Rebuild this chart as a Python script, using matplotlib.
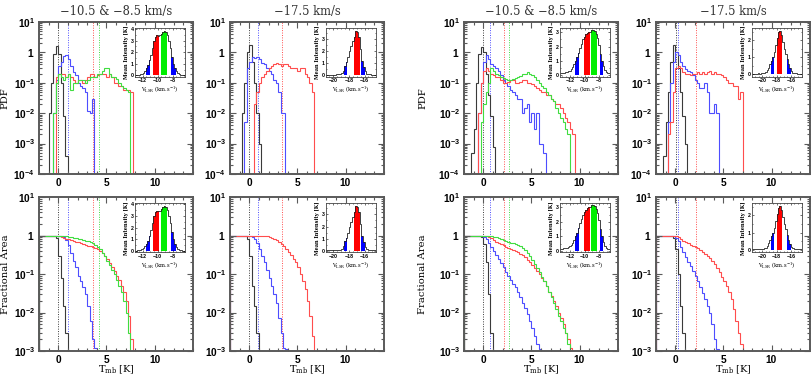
import matplotlib
matplotlib.use('Agg')
import matplotlib.pyplot as plt
import numpy as np
from matplotlib.ticker import LogLocator, MultipleLocator, NullFormatter

plt.rcParams['font.family'] = 'DejaVu Serif'
plt.rcParams['mathtext.fontset'] = 'custom'
plt.rcParams['mathtext.rm'] = 'DejaVu Serif'
plt.rcParams['mathtext.it'] = 'DejaVu Serif:italic'
plt.rcParams['mathtext.bf'] = 'Liberation Sans:bold'

# histogram bin width in K, spectral channel width in km/s
BIN = 0.25
CHAN = 0.2

# ---- left group, -10.5 & -8.5 km/s : PDF (start of first bin, values)
L_mix_pdf_k = (-1.0, [0.01, 0.1, 0.9, 1.6, 0.9, 0.1, 0.008, 0.0004])
L_mix_pdf_b = (-0.5, [0.01, 0.12, 0.35, 0.5, 0.75, 0.8, 0.6, 0.35, 0.22, 0.18, 0.1, 0.08,
                      0.07, 0.05, 0.012, 0.01, 0.03])
L_mix_pdf_r = (-0.25, [0.15, 0.2, 0.2, 0.2, 0.15, 0.2, 0.15, 0.12, 0.1, 0.12, 0.12, 0.1,
                       0.12, 0.15, 0.2, 0.2, 0.15, 0.18, 0.2, 0.2, 0.2, 0.15, 0.2, 0.15,
                       0.1, 0.1, 0.08, 0.08, 0.06, 0.06, 0.06, 0.05])
L_mix_pdf_g = (-0.5, [0.01, 0.1, 0.2, 0.15, 0.12, 0.15, 0.2, 0.06, 0.1, 0.1, 0.12, 0.12,
                      0.12, 0.1, 0.12, 0.15, 0.15, 0.15, 0.2, 0.2, 0.25, 0.3, 0.3, 0.2,
                      0.15, 0.15, 0.13, 0.1, 0.08, 0.07, 0.06, 0.05])
# ---- left group, -17.5 km/s : PDF
L_175_pdf_k = (-0.75, [0.01, 0.1, 1.0, 1.7, 0.5, 0.1, 0.01, 0.001])
L_175_pdf_b = (-0.5, [0.005, 0.3, 0.5, 0.7, 0.65, 0.7, 0.6, 0.45, 0.4, 0.3, 0.25, 0.2,
                      0.12, 0.1, 0.05, 0.01, 0.01])
L_175_pdf_r = (0.5, [0.02, 0.05, 0.1, 0.15, 0.2, 0.25, 0.3, 0.35, 0.4, 0.45, 0.4, 0.35,
                     0.4, 0.4, 0.35, 0.3, 0.3, 0.3, 0.25, 0.3, 0.3, 0.2, 0.15, 0.1, 0.05])
# ---- left group, fractional area
L_mix_cdf_k = (-2.0, [1.0, 1.0, 1.0, 1.0, 1.0, 1.0, 0.97, 0.85, 0.3, 0.08, 0.015, 0.003])
L_mix_cdf_b = (-2.0, [1.0, 1.0, 1.0, 1.0, 1.0, 1.0, 1.0, 1.0, 0.97, 0.95, 0.9, 0.75, 0.55,
                      0.35, 0.22, 0.15, 0.09, 0.065, 0.045, 0.03, 0.015, 0.006, 0.002,
                      0.0012])
L_mix_cdf_r = (-2.0, [1.0, 1.0, 1.0, 1.0, 1.0, 1.0, 1.0, 1.0, 0.97, 0.93, 0.88, 0.83, 0.8,
                      0.76, 0.72, 0.69, 0.66, 0.63, 0.6, 0.57, 0.54, 0.52, 0.5, 0.47,
                      0.44, 0.4, 0.35, 0.3, 0.24, 0.19, 0.15, 0.12, 0.09, 0.07, 0.05,
                      0.035, 0.02, 0.008, 0.002])
L_mix_cdf_g = (-2.0, [1.0, 1.0, 1.0, 1.0, 1.0, 1.0, 1.0, 1.0, 0.99, 0.98, 0.97, 0.95, 0.93,
                      0.91, 0.88, 0.86, 0.83, 0.8, 0.77, 0.74, 0.7, 0.66, 0.62, 0.57, 0.5,
                      0.44, 0.36, 0.29, 0.22, 0.17, 0.13, 0.1, 0.07, 0.05, 0.035, 0.02,
                      0.01, 0.003])
L_175_cdf_k = (-2.0, [1.0, 1.0, 1.0, 1.0, 1.0, 1.0, 0.97, 0.8, 0.3, 0.05, 0.015, 0.003])
L_175_cdf_b = (-2.0, [1.0, 1.0, 1.0, 1.0, 1.0, 1.0, 1.0, 1.0, 0.97, 0.92, 0.8, 0.65, 0.45,
                      0.3, 0.2, 0.13, 0.08, 0.05, 0.03, 0.018, 0.007, 0.003, 0.0012,
                      0.0011])
L_175_cdf_r = (-2.0, [1.0, 1.0, 1.0, 1.0, 1.0, 1.0, 1.0, 1.0, 1.0, 1.0, 1.0, 1.0, 1.0, 1.0,
                      0.98, 0.96, 0.93, 0.88, 0.82, 0.75, 0.68, 0.6, 0.52, 0.45, 0.38,
                      0.31, 0.25, 0.2, 0.15, 0.1, 0.065, 0.04, 0.02, 0.008, 0.0025])

# ---- right group, -10.5 & -8.5 km/s : PDF
R_mix_pdf_k = (-1.25, [0.0005, 0.003, 0.1, 0.9, 1.5, 1.0, 0.2, 0.04, 0.008, 0.0008])
R_mix_pdf_b = (-0.5, [0.01, 0.1, 0.5, 0.8, 0.6, 0.4, 0.35, 0.3, 0.25, 0.18, 0.12, 0.1,
                      0.08, 0.06, 0.05, 0.04, 0.03, 0.03, 0.01, 0.015, 0.02, 0.005, 0.01,
                      0.003, 0.01, 0.001, 0.001, 0.0005])
R_mix_pdf_r = (-0.5, [0.01, 0.1, 0.25, 0.3, 0.25, 0.2, 0.18, 0.15, 0.15, 0.12, 0.1, 0.1,
                      0.11, 0.12, 0.12, 0.1, 0.1, 0.11, 0.12, 0.12, 0.1, 0.1, 0.09, 0.08,
                      0.07, 0.06, 0.05, 0.05, 0.04, 0.04, 0.03, 0.025, 0.02, 0.02, 0.015,
                      0.01, 0.007, 0.005, 0.003, 0.002])
R_mix_pdf_g = (-0.25, [0.005, 0.02, 0.05, 0.1, 0.3, 0.25, 0.2, 0.18, 0.15, 0.14, 0.13,
                       0.12, 0.12, 0.13, 0.14, 0.15, 0.17, 0.2, 0.2, 0.22, 0.2, 0.18, 0.15,
                       0.12, 0.1, 0.08, 0.07, 0.05, 0.04, 0.03, 0.025, 0.015, 0.01, 0.007,
                       0.005, 0.003, 0.002])
# ---- right group, -17.5 km/s : PDF
R_175_pdf_k = (-1.25, [0.0004, 0.005, 0.05, 0.5, 1.7, 1.0, 0.3, 0.05, 0.008, 0.001])
R_175_pdf_b = (-0.75, [0.005, 0.1, 0.5, 1.0, 0.8, 0.5, 0.35, 0.28, 0.25, 0.22, 0.18, 0.12,
                       0.1, 0.07, 0.07, 0.1, 0.05, 0.01, 0.01, 0.02, 0.01])
R_175_pdf_r = (-0.75, [0.002, 0.005, 0.05, 0.3, 0.35, 0.3, 0.22, 0.2, 0.2, 0.18, 0.2, 0.2,
                       0.22, 0.2, 0.22, 0.2, 0.22, 0.25, 0.2, 0.22, 0.2, 0.2, 0.18, 0.15,
                       0.12, 0.1, 0.1, 0.08, 0.08, 0.03, 0.05])
# ---- right group, fractional area
R_mix_cdf_k = (-2.0, [1.0, 1.0, 1.0, 1.0, 1.0, 1.0, 0.98, 0.9, 0.6, 0.2, 0.03, 0.003])
R_mix_cdf_b = (-2.0, [1.0, 1.0, 1.0, 1.0, 1.0, 1.0, 1.0, 0.98, 0.92, 0.8, 0.65, 0.5, 0.4,
                      0.32, 0.24, 0.19, 0.15, 0.11, 0.09, 0.07, 0.055, 0.045, 0.035, 0.025,
                      0.018, 0.013, 0.009, 0.006, 0.004, 0.0025, 0.0015, 0.0011, 0.001])
R_mix_cdf_r = (-2.0, [1.0, 1.0, 1.0, 1.0, 1.0, 1.0, 1.0, 1.0, 1.0, 0.97, 0.92, 0.85, 0.75,
                      0.68, 0.63, 0.59, 0.55, 0.51, 0.48, 0.45, 0.42, 0.4, 0.37, 0.34,
                      0.31, 0.27, 0.23, 0.2, 0.17, 0.14, 0.12, 0.1, 0.08, 0.065, 0.05,
                      0.035, 0.027, 0.02, 0.015, 0.01, 0.007, 0.005, 0.003, 0.002, 0.0012])
R_mix_cdf_g = (-2.0, [1.0, 1.0, 1.0, 1.0, 1.0, 1.0, 1.0, 1.0, 1.0, 0.99, 0.97, 0.95, 0.93,
                      0.9, 0.87, 0.83, 0.78, 0.72, 0.68, 0.65, 0.62, 0.6, 0.56, 0.52, 0.48,
                      0.42, 0.36, 0.29, 0.23, 0.18, 0.14, 0.11, 0.085, 0.065, 0.05, 0.035,
                      0.025, 0.018, 0.012, 0.008, 0.006, 0.004, 0.003, 0.0015])
R_175_cdf_k = (-2.0, [1.0, 1.0, 1.0, 1.0, 1.0, 1.0, 0.99, 0.85, 0.45, 0.1, 0.015, 0.003])
R_175_cdf_b = (-2.0, [1.0, 1.0, 1.0, 1.0, 1.0, 1.0, 1.0, 0.97, 0.88, 0.7, 0.5, 0.37, 0.28,
                      0.2, 0.16, 0.12, 0.09, 0.065, 0.045, 0.032, 0.022, 0.015, 0.01,
                      0.005, 0.002, 0.0011])
R_175_cdf_r = (-2.0, [1.0, 1.0, 1.0, 1.0, 1.0, 1.0, 1.0, 1.0, 0.98, 0.92, 0.82, 0.74, 0.68,
                      0.62, 0.58, 0.54, 0.5, 0.46, 0.42, 0.38, 0.34, 0.3, 0.26, 0.22, 0.18,
                      0.14, 0.11, 0.085, 0.065, 0.05, 0.035, 0.022, 0.012, 0.006, 0.003,
                      0.0015])

# mean temperatures (dotted lines), order black, blue, red, green
L_mix_means = [0.0, 0.98, 3.6, 4.27]
L_175_means = [0.0, 0.87, 3.43]
R_mix_means = [0.0, 0.7, 2.2, 2.7]
R_175_means = [0.07, 0.24, 2.15]

# ---- inset spectra (start of first channel, mean intensity per channel)
spec_L_mix = (-13.0, [0.05, 0.06, 0.08, 0.1, 0.15, 0.25, 0.4, 0.6, 0.9, 1.3, 1.8, 2.4, 3.0,
                      3.35, 3.45, 3.4, 3.45, 3.6, 3.75, 3.85, 3.75, 3.5, 3.0, 2.4, 1.6, 1.0,
                      0.6, 0.35, 0.2, 0.12, 0.08, 0.05, 0.05])
spec_L_175 = (-21.0, [0.05, 0.05, 0.05, 0.06, 0.05, 0.05, 0.06, 0.08, 0.1, 0.12, 0.2, 0.4,
                      0.8, 1.1, 1.5, 2.0, 2.4, 2.8, 3.2, 3.7, 3.6, 3.2, 2.2, 1.2, 0.7, 0.35,
                      0.15, 0.1, 0.08, 0.05, 0.05, 0.05])
spec_R_mix = (-13.3, [0.15, 0.15, 0.17, 0.2, 0.22, 0.25, 0.3, 0.4, 0.55, 0.75, 1.0, 1.25,
                      1.55, 1.9, 2.2, 2.5, 2.7, 2.85, 2.95, 3.0, 3.05, 3.15, 3.2, 3.1, 2.9,
                      2.6, 2.1, 1.5, 1.0, 0.6, 0.35, 0.2, 0.15, 0.12])
spec_R_175 = (-21.4, [0.05, 0.05, 0.05, 0.05, 0.06, 0.05, 0.06, 0.08, 0.1, 0.15, 0.25, 0.4,
                      0.6, 0.8, 1.0, 1.3, 1.7, 2.1, 2.45, 2.55, 2.3, 1.9, 1.5, 1.2, 0.9,
                      0.6, 0.35, 0.2, 0.1, 0.08, 0.06, 0.05, 0.05, 0.05, 0.05])
# velocity ranges of the coloured channels
fills_L_mix = [(-11.6, -11.0, 'b'), (-10.6, -9.8, 'r'), (-9.6, -8.8, 'g'), (-8.2, -7.6, 'b')]
fills_L_175 = [(-18.6, -18.2, 'b'), (-17.4, -16.6, 'r'), (-16.4, -16.0, 'b')]
fills_R_mix = [(-11.3, -10.7, 'b'), (-10.1, -9.3, 'r'), (-9.1, -8.3, 'g'), (-7.9, -7.5, 'b')]
fills_R_175 = [(-18.8, -18.4, 'b'), (-18.0, -17.2, 'r'), (-16.6, -16.0, 'b')]

LINE = {'k': '#3a3a3a', 'b': '#4d4dff', 'r': '#ff4d4d', 'g': '#40dd40'}
FILL = {'b': '#0000ff', 'r': '#ff0000', 'g': '#00ee00'}
FRAME = '#5a5a5a'


def steps(ax, series, color):
    start, vals = series
    edges = start + BIN * np.arange(len(vals) + 1)
    ax.stairs(vals, edges, baseline=1e-9, color=color, lw=0.8)


def log_label(e):
    if e == 0:
        return r'$\mathbf{1}$'
    return r'$\mathbf{10^{%d}}$' % e


def style_main(ax, ymin_exp):
    ax.set_xlim(-2, 14)
    ax.set_yscale('log')
    ax.set_ylim(10.0 ** ymin_exp, 10)
    exps = list(range(ymin_exp, 2))
    ax.set_yticks([10.0 ** e for e in exps], [log_label(e) for e in exps], fontsize=7.3)
    ax.yaxis.set_minor_locator(LogLocator(base=10, subs=np.arange(2, 10), numticks=12))
    ax.yaxis.set_minor_formatter(NullFormatter())
    ax.set_xticks([0, 5, 10], ['0', '5', '10'], fontsize=7.3, fontweight='bold',
                  fontfamily='Liberation Sans')
    ax.xaxis.set_minor_locator(MultipleLocator(1))
    ax.tick_params(which='both', direction='in', top=True, right=True, color=FRAME,
                   width=0.8, pad=3)
    ax.tick_params(which='major', length=4.5)
    ax.tick_params(which='minor', length=2.2)
    for s in ax.spines.values():
        s.set_linewidth(1.4)
        s.set_color(FRAME)


def add_inset(ax, spec, fills, xlim, ylim, xticks, yticks):
    ins = ax.inset_axes([0.625, 0.64, 0.32, 0.32])
    start, vals = spec
    vals = np.array(vals)
    edges = start + CHAN * np.arange(len(vals) + 1)
    for lo, hi, c in fills:
        i0 = int(round((lo - start) / CHAN))
        i1 = int(round((hi - start) / CHAN))
        ins.stairs(vals[i0:i1], edges[i0:i1 + 1], baseline=0, fill=True, color=FILL[c],
                   lw=0)
    ins.stairs(vals, edges, baseline=None, color='#222222', lw=0.6)
    ins.set_xlim(*xlim)
    ins.set_ylim(*ylim)
    ins.set_xticks(xticks, ['\u2212%d' % abs(t) for t in xticks], fontsize=3.8,
                   fontweight='bold', fontfamily='Liberation Sans')
    ins.set_yticks(yticks, ['%d' % t for t in yticks], fontsize=3.8, fontweight='bold',
                   fontfamily='Liberation Sans')
    ins.xaxis.set_minor_locator(MultipleLocator(0.5))
    ins.yaxis.set_minor_locator(MultipleLocator(0.5))
    ins.tick_params(which='both', direction='in', top=True, right=True, width=0.4, pad=1)
    ins.tick_params(which='major', length=1.6)
    ins.tick_params(which='minor', length=0.8)
    for s in ins.spines.values():
        s.set_linewidth(0.6)
        s.set_color('#444444')
    ins.set_ylabel('Mean Intensity [K]', fontsize=3.6, fontweight='bold', labelpad=1)
    ins.set_xlabel(r'V$_{\rm LSR}$ (km.s$^{-1}$)', fontsize=3.8, labelpad=0.5)


fig = plt.figure(figsize=(8.11, 3.77), dpi=100)
W, H = 811.0, 377.0
lefts = [39, 230, 464, 656]
aw = 154
top_row = (22, 174)
bot_row = (197, 351)


def make_ax(col, row):
    y0, y1 = row
    return fig.add_axes([lefts[col] / W, 1 - y1 / H, aw / W, (y1 - y0) / H])


groups = [
    (0, [L_mix_pdf_k, L_mix_pdf_b, L_mix_pdf_r, L_mix_pdf_g],
     [L_mix_cdf_k, L_mix_cdf_b, L_mix_cdf_r, L_mix_cdf_g], L_mix_means,
     spec_L_mix, fills_L_mix, (-13.0, -6.4), (-0.11, 4.08), [-12, -10, -8], [0, 1, 2, 3, 4],
     '\u221210.5 & \u22128.5 km/s'),
    (1, [L_175_pdf_k, L_175_pdf_b, L_175_pdf_r], [L_175_cdf_k, L_175_cdf_b, L_175_cdf_r],
     L_175_means, spec_L_175, fills_L_175, (-20.9, -14.6), (-0.11, 3.9), [-20, -18, -16],
     [0, 1, 2, 3], '\u221217.5 km/s'),
    (2, [R_mix_pdf_k, R_mix_pdf_b, R_mix_pdf_r, R_mix_pdf_g],
     [R_mix_cdf_k, R_mix_cdf_b, R_mix_cdf_r, R_mix_cdf_g], R_mix_means,
     spec_R_mix, fills_R_mix, (-13.3, -6.6), (-0.12, 3.3), [-12, -10, -8], [0, 1, 2, 3],
     '\u221210.5 & \u22128.5 km/s'),
    (3, [R_175_pdf_k, R_175_pdf_b, R_175_pdf_r], [R_175_cdf_k, R_175_cdf_b, R_175_cdf_r],
     R_175_means, spec_R_175, fills_R_175, (-21.4, -14.5), (-0.13, 2.7), [-20, -18, -16],
     [0, 1, 2], '\u221217.5 km/s'),
]

keys = ['k', 'b', 'r', 'g']
for col, pdfs, cdfs, means, spec, fills, sxlim, sylim, sxt, syt, title in groups:
    for row, curves, ymin, ylab in [(top_row, pdfs, -4, 'PDF'),
                                    (bot_row, cdfs, -3, 'Fractional Area')]:
        ax = make_ax(col, row)
        for k, m in zip(keys, means):
            ax.axvline(m, color=LINE[k], ls=(0, (1, 1.5)), lw=0.7, zorder=1)
        for k, s in zip(keys, curves):
            steps(ax, s, LINE[k])
        style_main(ax, ymin)
        add_inset(ax, spec, fills, sxlim, sylim, sxt, syt)
        if col in (0, 2):
            ax.set_ylabel(ylab, fontsize=7.2)
            ax.yaxis.set_label_coords(-0.19 if col == 0 else -0.24, 0.5)
        if row == top_row:
            ax.set_title(title, fontsize=8.3, pad=5, color='#333333')
        else:
            ax.set_xlabel(r'T$_{\rm mb}$ [K]', fontsize=7.0)
            ax.xaxis.set_label_coords(0.5, -0.082)

fig.savefig('out.png', dpi=100)
